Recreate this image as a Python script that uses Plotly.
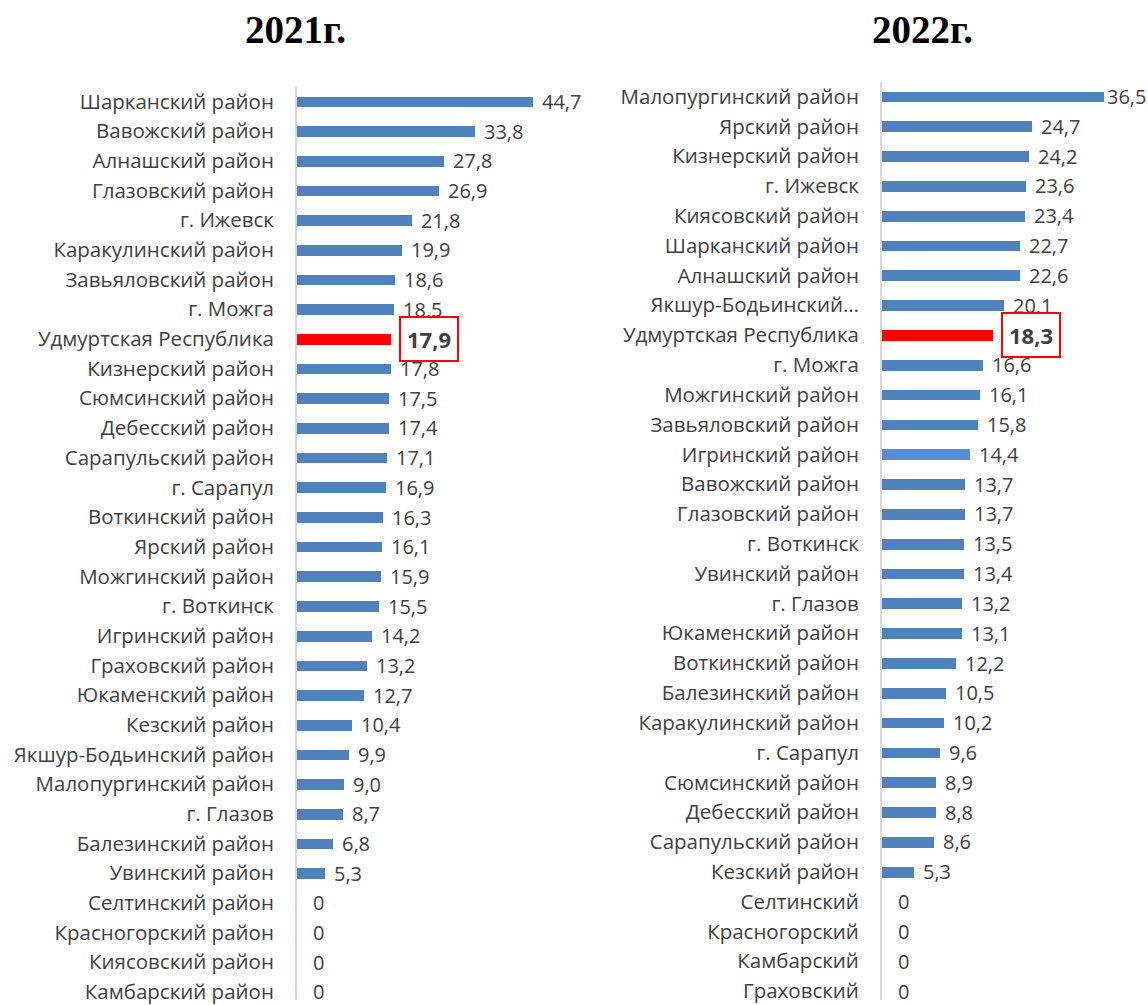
import plotly.graph_objects as go

cats_2021 = ["Шарканский район", "Вавожский район", "Алнашский район", "Глазовский район",
             "г. Ижевск", "Каракулинский район", "Завьяловский район", "г. Можга",
             "Удмуртская Республика", "Кизнерский район", "Сюмсинский район", "Дебесский район",
             "Сарапульский район", "г. Сарапул", "Воткинский район", "Ярский район",
             "Можгинский район", "г. Воткинск", "Игринский район", "Граховский район",
             "Юкаменский район", "Кезский район", "Якшур-Бодьинский район", "Малопургинский район",
             "г. Глазов", "Балезинский район", "Увинский район", "Селтинский район",
             "Красногорский район", "Киясовский район", "Камбарский район"]
vals_2021 = [44.7, 33.8, 27.8, 26.9, 21.8, 19.9, 18.6, 18.5, 17.9, 17.8, 17.5, 17.4, 17.1, 16.9,
             16.3, 16.1, 15.9, 15.5, 14.2, 13.2, 12.7, 10.4, 9.9, 9.0, 8.7, 6.8, 5.3, 0, 0, 0, 0]

cats_2022 = ["Малопургинский район", "Ярский район", "Кизнерский район", "г. Ижевск",
             "Киясовский район", "Шарканский район", "Алнашский район", "Якшур-Бодьинский…",
             "Удмуртская Республика", "г. Можга", "Можгинский район", "Завьяловский район",
             "Игринский район", "Вавожский район", "Глазовский район", "г. Воткинск",
             "Увинский район", "г. Глазов", "Юкаменский район", "Воткинский район",
             "Балезинский район", "Каракулинский район", "г. Сарапул", "Сюмсинский район",
             "Дебесский район", "Сарапульский район", "Кезский район", "Селтинский",
             "Красногорский", "Камбарский", "Граховский"]
vals_2022 = [36.5, 24.7, 24.2, 23.6, 23.4, 22.7, 22.6, 20.1, 18.3, 16.6, 16.1, 15.8, 14.4, 13.7,
             13.7, 13.5, 13.4, 13.2, 13.1, 12.2, 10.5, 10.2, 9.6, 8.9, 8.8, 8.6, 5.3, 0, 0, 0, 0]

titles = ["2021г.", "2022г."]
highlight = "Удмуртская Республика"
light_cat_2022 = "Игринский район"

BLUE = "#4F81BD"
LIGHT = "#558ED5"
RED = "#FF0000"
TXT = "#404040"
FONT = "Open Sans"

def fmt(v):
    return "0" if v == 0 else f"{v:.1f}".replace(".", ",")

fig = go.Figure()

panels = [
    (cats_2021, vals_2021, "x", "y", None, 999),
    (cats_2022, vals_2022, "x2", "y2", light_cat_2022, 36),
]

annotations = []
for cats, vals, xa, ya, light, tight in panels:
    colors = [RED if c == highlight else (LIGHT if c == light else BLUE) for c in cats]
    fig.add_trace(go.Bar(x=vals, y=cats, orientation="h", marker=dict(color=colors, line=dict(width=0)),
                         width=0.36, xaxis=xa, yaxis=ya, showlegend=False, hoverinfo="skip"))
    for c, v in zip(cats, vals):
        if c == highlight:
            annotations.append(dict(x=v, y=c, xref=xa, yref=ya, text="<b>" + fmt(v) + "</b>",
                                    showarrow=False, xanchor="left", xshift=8,
                                    font=dict(family=FONT, size=22, color=TXT),
                                    bordercolor=RED, borderwidth=2, borderpad=6, bgcolor="white"))
        else:
            shift = 1 if v > tight else (7 if v > 0 else 14)
            annotations.append(dict(x=v, y=c, xref=xa, yref=ya, text=fmt(v), showarrow=False,
                                    xanchor="left", xshift=shift,
                                    font=dict(family=FONT, size=20, color=TXT)))

annotations.append(dict(x=295 / 1148, y=1 - 30 / 1005, xref="paper", yref="paper", text="<b>" + titles[0] + "</b>",
                        showarrow=False, xanchor="center", yanchor="middle",
                        font=dict(family="Liberation Serif", size=39, color="black")))
annotations.append(dict(x=922 / 1148, y=1 - 30 / 1005, xref="paper", yref="paper", text="<b>" + titles[1] + "</b>",
                        showarrow=False, xanchor="center", yanchor="middle",
                        font=dict(family="Liberation Serif", size=39, color="black")))

yax_common = dict(type="category", showgrid=False, zeroline=False, showline=True,
                  linecolor="#D9D9D9", linewidth=2, ticks="", ticklabelstandoff=17,
                  tickfont=dict(family=FONT, size=20.5, color=TXT), autorange=False)
xax_common = dict(showgrid=False, zeroline=False, showline=False, showticklabels=False, ticks="",
                  autorange=False)

fig.update_layout(
    width=1148, height=1005,
    margin=dict(l=0, r=0, t=0, b=0),
    paper_bgcolor="white", plot_bgcolor="white",
    bargap=0,
    xaxis=dict(domain=[297 / 1148, 580 / 1148], range=[0, 283 / 5.27], anchor="y", **xax_common),
    yaxis=dict(domain=[0, 1 - 87 / 1005], range=[30.27, -0.5], anchor="x",
               categoryorder="array", categoryarray=cats_2021, **yax_common),
    xaxis2=dict(domain=[882 / 1148, 1.0], range=[0, 266 / 6.09], anchor="y2", **xax_common),
    yaxis2=dict(domain=[0, 1 - 82 / 1005], range=[30.3, -0.5], anchor="x2",
                categoryorder="array", categoryarray=cats_2022, **yax_common),
    annotations=annotations,
)

fig.write_html("out.html", config={"displayModeBar": False},
               post_script="document.body.style.margin='0';document.body.style.overflow='hidden';")
